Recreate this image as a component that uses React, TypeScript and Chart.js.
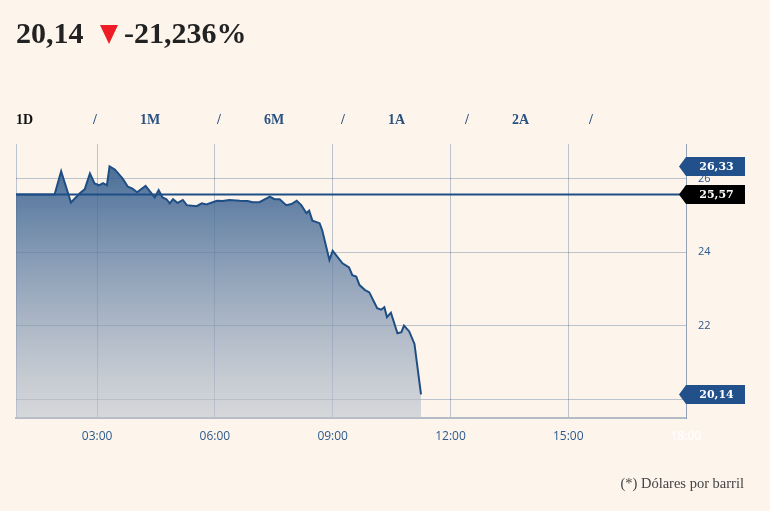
import React, { useEffect, useRef } from 'react';
import { Chart, registerables } from 'chart.js';

Chart.register(...registerables);

// ---- Data ----
const times = ['00:56','01:55','02:05','02:20','02:34','02:41','02:49','02:56','03:03','03:09','03:15','03:19','03:27','03:39','03:47','03:54','04:01','04:14','04:28','04:34','04:40','04:46','04:51','04:56','05:03','05:11','05:17','05:32','05:40','05:47','06:03','06:12','06:22','06:38','06:50','06:58','07:08','07:24','07:31','07:39','07:49','07:57','08:05','08:12','08:20','08:24','08:29','08:40','08:44','08:55','09:00','09:15','09:25','09:30','09:36','09:41','09:49','09:56','10:08','10:14','10:19','10:23','10:29','10:39','10:45','10:49','10:57','11:05','11:15'];
const prices = [25.57,25.57,26.20,25.35,25.61,25.71,26.14,25.87,25.82,25.88,25.82,26.33,26.25,26.00,25.78,25.73,25.63,25.80,25.49,25.69,25.49,25.44,25.33,25.44,25.34,25.42,25.28,25.25,25.33,25.30,25.40,25.39,25.42,25.40,25.39,25.36,25.36,25.51,25.44,25.44,25.28,25.31,25.40,25.28,25.06,25.13,24.86,24.79,24.60,23.79,24.04,23.70,23.59,23.38,23.34,23.11,22.98,22.91,22.48,22.44,22.51,22.24,22.36,21.80,21.83,22.01,21.85,21.51,20.14];
const previousClose = 25.57;
const xTickHours = [3, 6, 9, 12, 15, 18];
const xTickLabels = ['03:00', '06:00', '09:00', '12:00', '15:00', '18:00'];
const yTickValues = [20, 22, 24, 26];
const tabs = ['1D', '1M', '6M', '1A', '2A'];
const footnote = '(*) Dólares por barril';

const toHours = (t: string) => {
  const [h, m] = t.split(':').map(Number);
  return h + m / 60;
};
const fmt = (v: number, d = 2) => v.toFixed(d).replace('.', ',');

const lastPrice = prices[prices.length - 1];
const maxPrice = Math.max(...prices);
const changePct = ((lastPrice - previousClose) / previousClose) * 100;
const xMin = toHours(times[0]);
const xMax = xTickHours[xTickHours.length - 1];

const BLUE = '#22508a';
const LINE = '#1f4e85';
const GRID = 'rgba(44,80,130,0.3)';
const TICK = '#2c5a8c';

const badges = [
  { value: maxPrice, color: BLUE },
  { value: previousClose, color: '#000000' },
  { value: lastPrice, color: BLUE },
];

const badgePlugin = {
  id: 'badges',
  afterDraw(chart: any) {
    const { ctx, chartArea, scales } = chart;
    const ys = scales.y;
    ctx.save();
    badges.forEach((b) => {
      const py = ys.getPixelForValue(b.value);
      const left = chartArea.right;
      const tip = left - 7;
      const right = left + 59;
      const h = 9.5;
      ctx.beginPath();
      ctx.moveTo(tip, py);
      ctx.lineTo(left, py - h);
      ctx.lineTo(right, py - h);
      ctx.lineTo(right, py + h);
      ctx.lineTo(left, py + h);
      ctx.closePath();
      ctx.fillStyle = b.color;
      ctx.fill();
      ctx.fillStyle = '#ffffff';
      ctx.font = 'bold 11px "DejaVu Serif"';
      ctx.textAlign = 'center';
      ctx.textBaseline = 'middle';
      ctx.fillText(fmt(b.value), (left + right) / 2 + 1, py + 0.5);
    });
    ctx.restore();
  },
};

function PriceChart() {
  const ref = useRef<HTMLCanvasElement | null>(null);
  useEffect(() => {
    if (!ref.current) return;
    const chart = new Chart(ref.current, {
      type: 'line',
      data: {
        datasets: [
          {
            data: [
              { x: xMin, y: previousClose },
              { x: xMax, y: previousClose },
            ],
            borderColor: LINE,
            borderWidth: 2,
            pointRadius: 0,
            fill: false,
            order: 0,
          },
          {
            data: times.map((t, i) => ({ x: toHours(t), y: prices[i] })),
            borderColor: LINE,
            borderWidth: 2,
            pointRadius: 0,
            tension: 0,
            fill: 'start',
            order: 1,
            backgroundColor: (c: any) => {
              const a = c.chart.chartArea;
              if (!a) return 'rgba(31,78,133,0.6)';
              const g = c.chart.ctx.createLinearGradient(0, a.top, 0, a.bottom);
              g.addColorStop(0, 'rgba(31,78,133,0.88)');
              g.addColorStop(1, 'rgba(190,196,206,0.6)');
              return g;
            },
          },
        ],
      } as any,
      options: {
        animation: false,
        responsive: false,
        maintainAspectRatio: false,
        layout: { padding: { top: 144, left: 16, right: 0, bottom: 0 } },
        plugins: { legend: { display: false }, tooltip: { enabled: false } },
        scales: {
          x: {
            type: 'linear',
            min: xMin,
            max: xMax,
            z: 1,
            afterBuildTicks: (s: any) => {
              s.ticks = [{ value: xMin }, ...xTickHours.map((v) => ({ value: v }))];
            },
            afterFit: (s: any) => {
              s.height = 93;
            },
            grid: { color: GRID, lineWidth: 1, drawTicks: false },
            border: { color: '#b3bbc6', width: 2 },
            ticks: {
              padding: 11,
              autoSkip: false,
              maxRotation: 0,
              font: { family: 'Open Sans', size: 12 },
              color: (c: any) => (c.tick && c.tick.value === xMax ? '#ffffff' : TICK),
              callback: (v: any) => {
                const i = xTickHours.indexOf(v);
                return i >= 0 ? xTickLabels[i] : '';
              },
            },
          },
          y: {
            position: 'right',
            min: 19.5,
            max: 26.94,
            z: 1,
            afterBuildTicks: (s: any) => {
              s.ticks = yTickValues.map((v) => ({ value: v }));
            },
            afterFit: (s: any) => {
              s.width = 84;
            },
            grid: { color: GRID, lineWidth: 1, drawTicks: false },
            border: { color: GRID, width: 1 },
            ticks: {
              padding: 12,
              color: TICK,
              font: { family: 'Open Sans', size: 11 },
              callback: (v: any) => String(v),
            },
          },
        },
      } as any,
      plugins: [badgePlugin],
    });
    return () => chart.destroy();
  }, []);
  return (
    <canvas
      ref={ref}
      width={770}
      height={511}
      style={{ position: 'absolute', left: 0, top: 0, width: 770, height: 511, display: 'block' }}
    />
  );
}

const tabLefts = [16, 140, 264, 388, 512];

export default function App() {
  const serif = '"Liberation Serif", serif';
  return (
    <div
      style={{
        position: 'fixed',
        left: 0,
        top: 0,
        width: 770,
        height: 511,
        background: '#fdf5ec',
        overflow: 'hidden',
      }}
    >
      <PriceChart />
      <div style={{ position: 'absolute', left: 16, top: 18, font: `bold 30px ${serif}`, lineHeight: '30px', color: '#222', whiteSpace: 'nowrap' }}>
        {fmt(lastPrice)}
      </div>
      <div
        style={{
          position: 'absolute',
          left: 100,
          top: 25,
          width: 0,
          height: 0,
          borderLeft: '9px solid transparent',
          borderRight: '9px solid transparent',
          borderTop: '19px solid #ee1c25',
        }}
      />
      <div style={{ position: 'absolute', left: 124, top: 18, font: `bold 30px ${serif}`, lineHeight: '30px', color: '#222', whiteSpace: 'nowrap' }}>
        {fmt(changePct, 3) + '%'}
      </div>
      {tabs.map((t, i) => (
        <React.Fragment key={t}>
          <div
            style={{
              position: 'absolute',
              left: tabLefts[i],
              top: 113,
              font: `bold 14px ${serif}`,
              lineHeight: '14px',
              color: i === 0 ? '#111' : '#2b5183',
              whiteSpace: 'nowrap',
            }}
          >
            {t}
          </div>
          <div
            style={{
              position: 'absolute',
              left: tabLefts[i] + 77,
              top: 113,
              font: `bold 14px ${serif}`,
              lineHeight: '14px',
              color: '#2b5183',
            }}
          >
            /
          </div>
        </React.Fragment>
      ))}
      <div style={{ position: 'absolute', right: 26, top: 476, font: `14.5px ${serif}`, lineHeight: '14px', color: '#444', whiteSpace: 'nowrap' }}>
        {footnote}
      </div>
    </div>
  );
}
